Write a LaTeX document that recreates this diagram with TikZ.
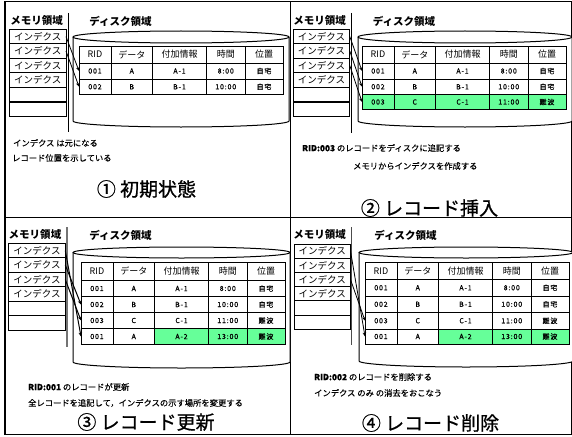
\documentclass[tikz,border=0pt]{standalone}
\usepackage{fontspec}
\setmainfont{Noto Sans CJK JP}
\newfontfamily\datafont{Noto Sans CJK JP}[LetterSpace=12,FakeBold=0.4]
\newfontfamily\titlefont{Noto Sans CJK JP}[FakeBold=0.8]
\newfontfamily\notefont{Noto Sans CJK JP}[FakeBold=0.3]
\usetikzlibrary{arrows.meta}
\definecolor{recgreen}{RGB}{102,255,153}
\tikzset{
  cell/.style={draw, line width=0.8pt, inner sep=0pt, outer sep=0pt, anchor=north west,
    font=\datafont\fontsize{7}{8}\selectfont},
  hdr/.style={font=\fontsize{9}{10}\selectfont},
  hot/.style={fill=recgreen},
  membox/.style={draw, line width=0.9pt, inner sep=0pt, outer sep=0pt, minimum width=56.5pt,
    anchor=north west, font=\fontsize{9.5}{10}\selectfont},
  area/.style={font=\bfseries\fontsize{10.5}{12}\selectfont, inner sep=0pt},
  note/.style={font=\notefont\fontsize{8.3}{10}\selectfont, anchor=west, inner sep=0pt},
  ptitle/.style={font=\titlefont\fontsize{19}{22}\selectfont, inner sep=0pt},
  ptr/.style={line width=0.8pt, -{Stealth[length=4pt,width=3.5pt]}},
  cyl/.style={line width=1pt, fill=white},
  sepline/.style={line width=1pt},
  frame/.style={line width=1pt},
}
\newcommand\trow[6]{\tikzset{rowa/.style={#4},rowb/.style={#5},rowh/.style={minimum height=#3pt}}\trowsplit{#1}{#2}#6\relax}
\def\trowsplit#1#2#3,#4,#5,#6,#7\relax{%
  \node[cell,rowh,rowa,minimum width=32pt] (#1-1) at #2 {#3};
  \node[cell,rowh,rowa,minimum width=41.5pt] (#1-2) at (#1-1.north east) {#4};
  \node[cell,rowh,rowb,minimum width=54pt] (#1-3) at (#1-2.north east) {#5};
  \node[cell,rowh,rowb,minimum width=38.5pt] (#1-4) at (#1-3.north east) {#6};
  \node[cell,rowh,rowb,minimum width=38pt] (#1-5) at (#1-4.north east) {#7};
}
\newcommand\memstack[3]{%
  \node[membox,minimum height=#3pt] (#1-1) at #2 {インデクス};
  \node[membox,minimum height=#3pt] (#1-2) at (#1-1.south west) {インデクス};
  \node[membox,minimum height=#3pt] (#1-3) at (#1-2.south west) {インデクス};
  \node[membox,minimum height=#3pt] (#1-4) at (#1-3.south west) {インデクス};
  \node[membox,minimum height=#3pt] (#1-5) at (#1-4.south west) {};
  \node[membox,minimum height=#3pt] (#1-6) at (#1-5.south west) {};
}
\begin{document}
\begin{tikzpicture}[x=1pt,y=-1pt]
\useasboundingbox (0,0) rectangle (572,436);
% frame
\draw[frame] (4,2) rectangle (571,434);
\draw[line width=2pt] (4.5,2) -- (4.5,434);
\draw[frame] (4,217) -- (571,217);
\draw[frame] (290.5,2) -- (290.5,434);

% ===== panel 1 =====
\node[area] (p1mem) at (36.5,21) {メモリ領域};
\node[area] (p1disk) at (120.5,21) {ディスク領域};
\draw[sepline] (68.5,13) -- (68.5,132);
\draw[cyl] (73,37) -- (73,121) arc[start angle=180,end angle=0,x radius=108,y radius=6] -- (289,37);
\draw[cyl] (181,37) ellipse [x radius=108, y radius=6];
\trow{p1h}{(79,46)}{17}{hdr}{hdr}{RID,データ,付加情報,時間,位置}
\trow{p1a}{(p1h-1.south west)}{16}{}{}{001,A,A-1,8:00,自宅}
\trow{p1b}{(p1a-1.south west)}{15.5}{}{}{002,B,B-1,10:00,自宅}
\memstack{p1m}{(9.5,29.3)}{14.5}
\draw[line width=1.8pt] (p1m-5.south west) -- (p1m-5.south east);
\draw[ptr] (p1m-1.east) -- (p1a-1.west);
\draw[ptr] (p1m-2.east) -- (p1b-1.west);
\node[note] (p1n1) at (13,143) {インデクス は元になる};
\node[note] (p1n2) at (12,158) {レコード位置を示している};
\node[ptitle] (p1t) at (146.5,189) {① 初期状態};

% ===== panel 2 =====
\node[area] (p2mem) at (319.5,21) {メモリ領域};
\node[area] (p2disk) at (404,21) {ディスク領域};
\draw[sepline] (351.7,13) -- (351.7,133);
\draw[cyl] (358,37) -- (358,121) arc[start angle=180,end angle=0,x radius=107,y radius=6] -- (572,37);
\draw[cyl] (465,37) ellipse [x radius=107, y radius=6];
\trow{p2h}{(362,46)}{17}{hdr}{hdr}{RID,データ,付加情報,時間,位置}
\trow{p2a}{(p2h-1.south west)}{16}{}{}{001,A,A-1,8:00,自宅}
\trow{p2b}{(p2a-1.south west)}{15.5}{}{}{002,B,B-1,10:00,自宅}
\trow{p2c}{(p2b-1.south west)}{15}{hot}{hot}{003,C,C-1,11:00,難波}
\memstack{p2m}{(293.3,29.3)}{14.5}
\draw[line width=1.8pt] (p2m-5.south west) -- (p2m-5.south east);
\draw[ptr] (p2m-1.east) -- (p2a-1.west);
\draw[ptr] (p2m-2.east) -- (p2b-1.west);
\draw[ptr] (p2m-3.east) -- (p2c-1.west);
\node[note] (p2n1) at (302,148) {\textbf{RID:003} のレコードをディスクに追記する};
\node[note] (p2n2) at (353,166) {メモリからインデクスを作成する};
\node[ptitle] (p2t) at (429.5,208) {② レコード挿入};

% ===== panel 3 =====
\node[area] (p3mem) at (35,235) {メモリ領域};
\node[area] (p3disk) at (120.5,235) {ディスク領域};
\draw[line width=1.8pt, black!55] (66.7,227) -- (66.7,347);
\draw[cyl] (73,252.5) -- (73,362) arc[start angle=180,end angle=0,x radius=108.5,y radius=6] -- (290,252.5);
\draw[cyl] (181.5,252.5) ellipse [x radius=108.5, y radius=5.5];
\trow{p3h}{(81,262)}{18.5}{hdr}{hdr}{RID,データ,付加情報,時間,位置}
\trow{p3a}{(p3h-1.south west)}{16}{}{}{001,A,A-1,8:00,自宅}
\trow{p3b}{(p3a-1.south west)}{16}{}{}{002,B,B-1,10:00,自宅}
\trow{p3c}{(p3b-1.south west)}{16}{}{}{003,C,C-1,11:00,難波}
\trow{p3d}{(p3c-1.south west)}{16}{}{hot}{001,A,A-2,13:00,難波}
\memstack{p3m}{(8.8,243.3)}{14.5}
\draw[ptr, line width=1pt] (p3m-1.east) -- (p3d-1.west);
\draw[ptr, line width=1pt] (p3m-2.east) -- (p3b-1.west);
\draw[ptr, line width=1pt] (p3m-3.east) -- (p3c-1.west);
\node[note] (p3n1) at (28,387) {\textbf{RID:001} のレコードが更新};
\node[note] (p3n2) at (28,403) {全レコードを追記して，インデクスの示す場所を変更する};
\node[ptitle] (p3t) at (146,422) {③ レコード更新};

% ===== panel 4 =====
\node[area] (p4mem) at (319.5,235) {メモリ領域};
\node[area] (p4disk) at (405.5,235) {ディスク領域};
\draw[line width=1.2pt, black!70] (351.7,227) -- (351.7,345);
\draw[cyl] (359,252.5) -- (359,361) arc[start angle=180,end angle=0,x radius=107,y radius=6] -- (573,252.5);
\draw[cyl] (466,252.5) ellipse [x radius=107, y radius=5.5];
\trow{p4h}{(365,262)}{17.5}{hdr}{hdr}{RID,データ,付加情報,時間,位置}
\trow{p4a}{(p4h-1.south west)}{16.5}{}{}{001,A,A-1,8:00,自宅}
\trow{p4b}{(p4a-1.south west)}{16.5}{}{}{002,B,B-1,10:00,自宅}
\trow{p4c}{(p4b-1.south west)}{16.5}{}{}{003,C,C-1,11:00,難波}
\trow{p4d}{(p4c-1.south west)}{15}{}{hot}{001,A,A-2,13:00,難波}
\memstack{p4m}{(294,244)}{14.2}
\draw[ptr] (p4m-1.east) -- (p4d-1.west);
\draw[ptr] (p4m-3.east) -- (p4c-1.west);
\node[note] (p4n1) at (314,377) {\textbf{RID:002} のレコードを削除する};
\node[note] (p4n2) at (314,393) {インデクス のみ の消去をおこなう};
\node[ptitle] (p4t) at (430.5,423) {④ レコード削除};
\end{tikzpicture}
\end{document}
